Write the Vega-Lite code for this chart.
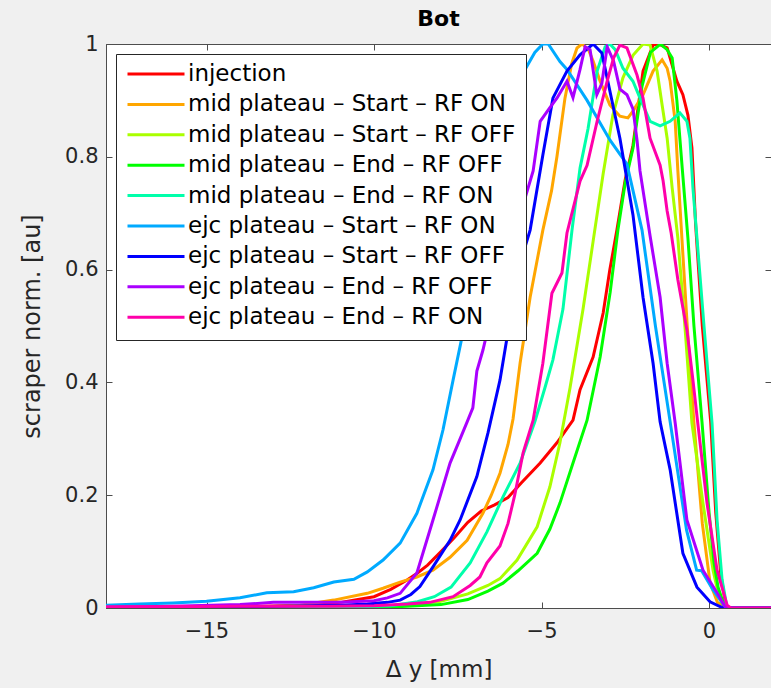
{
  "$schema": "https://vega.github.io/schema/vega-lite/v6.json",
  "width": 665,
  "height": 564,
  "autosize": {"type": "none"},
  "padding": {"left": 106, "top": 44, "right": 0, "bottom": 80},
  "background": "#f0f0f0",
  "title": {"text": "Bot", "fontSize": 22, "fontWeight": "bold", "font": "DejaVu Sans", "color": "#000000", "offset": 2, "anchor": "middle"},
  "config": {
    "view": {"fill": "white", "stroke": "#4d4d4d", "strokeWidth": 1},
    "font": "DejaVu Sans",
    "axis": {"grid": false, "domainColor": "#4d4d4d", "tickColor": "#4d4d4d", "labelColor": "#262626", "titleColor": "#262626", "labelFont": "DejaVu Sans", "titleFont": "DejaVu Sans", "labelFontSize": 21, "titleFontSize": 23, "titleFontWeight": "normal"}
  },
  "data": {"values": [
    {"s":"injection","x":-18,"y":0},{"s":"injection","x":-14,"y":0.002},{"s":"injection","x":-12,"y":0.005},{"s":"injection","x":-11,"y":0.01},{"s":"injection","x":-10,"y":0.02},{"s":"injection","x":-9.5,"y":0.033},{"s":"injection","x":-9,"y":0.05},{"s":"injection","x":-8.7,"y":0.062},{"s":"injection","x":-8.4,"y":0.076},{"s":"injection","x":-8,"y":0.1},{"s":"injection","x":-7.6,"y":0.125},{"s":"injection","x":-7.2,"y":0.152},{"s":"injection","x":-6.8,"y":0.172},{"s":"injection","x":-6.4,"y":0.183},{"s":"injection","x":-6,"y":0.196},{"s":"injection","x":-5.6,"y":0.222},{"s":"injection","x":-5.04,"y":0.257},{"s":"injection","x":-4.54,"y":0.293},{"s":"injection","x":-4.06,"y":0.333},{"s":"injection","x":-3.85,"y":0.387},{"s":"injection","x":-3.46,"y":0.445},{"s":"injection","x":-3.16,"y":0.523},{"s":"injection","x":-2.96,"y":0.6},{"s":"injection","x":-2.75,"y":0.67},{"s":"injection","x":-2.5,"y":0.76},{"s":"injection","x":-2.27,"y":0.82},{"s":"injection","x":-1.97,"y":0.952},{"s":"injection","x":-1.67,"y":0.998},{"s":"injection","x":-1.52,"y":1},{"s":"injection","x":-1.25,"y":0.993},{"s":"injection","x":-0.96,"y":0.934},{"s":"injection","x":-0.78,"y":0.91},{"s":"injection","x":-0.63,"y":0.874},{"s":"injection","x":-0.51,"y":0.816},{"s":"injection","x":-0.4,"y":0.68},{"s":"injection","x":-0.2,"y":0.5},{"s":"injection","x":0.05,"y":0.33},{"s":"injection","x":0.2,"y":0.17},{"s":"injection","x":0.35,"y":0.06},{"s":"injection","x":0.5,"y":0.005},{"s":"injection","x":0.6,"y":0},{"s":"injection","x":2,"y":0},

    {"s":"mid plateau – Start – RF ON","x":-18,"y":0},{"s":"mid plateau – Start – RF ON","x":-14,"y":0.001},{"s":"mid plateau – Start – RF ON","x":-13.2,"y":0.002},{"s":"mid plateau – Start – RF ON","x":-12.2,"y":0.005},{"s":"mid plateau – Start – RF ON","x":-11.2,"y":0.014},{"s":"mid plateau – Start – RF ON","x":-10.2,"y":0.026},{"s":"mid plateau – Start – RF ON","x":-9.73,"y":0.035},{"s":"mid plateau – Start – RF ON","x":-9.22,"y":0.046},{"s":"mid plateau – Start – RF ON","x":-8.72,"y":0.055},{"s":"mid plateau – Start – RF ON","x":-8.24,"y":0.067},{"s":"mid plateau – Start – RF ON","x":-7.73,"y":0.09},{"s":"mid plateau – Start – RF ON","x":-7.22,"y":0.12},{"s":"mid plateau – Start – RF ON","x":-6.75,"y":0.168},{"s":"mid plateau – Start – RF ON","x":-6.5,"y":0.2},{"s":"mid plateau – Start – RF ON","x":-6.24,"y":0.239},{"s":"mid plateau – Start – RF ON","x":-6,"y":0.29},{"s":"mid plateau – Start – RF ON","x":-5.85,"y":0.335},{"s":"mid plateau – Start – RF ON","x":-5.64,"y":0.434},{"s":"mid plateau – Start – RF ON","x":-5.34,"y":0.551},{"s":"mid plateau – Start – RF ON","x":-4.96,"y":0.67},{"s":"mid plateau – Start – RF ON","x":-4.7,"y":0.74},{"s":"mid plateau – Start – RF ON","x":-4.54,"y":0.8},{"s":"mid plateau – Start – RF ON","x":-4.3,"y":0.904},{"s":"mid plateau – Start – RF ON","x":-4.1,"y":0.965},{"s":"mid plateau – Start – RF ON","x":-3.94,"y":0.993},{"s":"mid plateau – Start – RF ON","x":-3.79,"y":1},{"s":"mid plateau – Start – RF ON","x":-3.6,"y":0.99},{"s":"mid plateau – Start – RF ON","x":-3.46,"y":0.97},{"s":"mid plateau – Start – RF ON","x":-3.25,"y":0.934},{"s":"mid plateau – Start – RF ON","x":-2.96,"y":0.892},{"s":"mid plateau – Start – RF ON","x":-2.66,"y":0.872},{"s":"mid plateau – Start – RF ON","x":-2.42,"y":0.869},{"s":"mid plateau – Start – RF ON","x":-2.27,"y":0.881},{"s":"mid plateau – Start – RF ON","x":-1.97,"y":0.91},{"s":"mid plateau – Start – RF ON","x":-1.67,"y":0.952},{"s":"mid plateau – Start – RF ON","x":-1.4,"y":0.972},{"s":"mid plateau – Start – RF ON","x":-1.25,"y":0.957},{"s":"mid plateau – Start – RF ON","x":-1.16,"y":0.934},{"s":"mid plateau – Start – RF ON","x":-1.01,"y":0.863},{"s":"mid plateau – Start – RF ON","x":-0.93,"y":0.775},{"s":"mid plateau – Start – RF ON","x":-0.81,"y":0.656},{"s":"mid plateau – Start – RF ON","x":-0.65,"y":0.5},{"s":"mid plateau – Start – RF ON","x":-0.45,"y":0.328},{"s":"mid plateau – Start – RF ON","x":-0.2,"y":0.15},{"s":"mid plateau – Start – RF ON","x":0.03,"y":0.045},{"s":"mid plateau – Start – RF ON","x":0.25,"y":0.01},{"s":"mid plateau – Start – RF ON","x":0.5,"y":0},{"s":"mid plateau – Start – RF ON","x":2,"y":0},

    {"s":"mid plateau – Start – RF OFF","x":-18,"y":0},{"s":"mid plateau – Start – RF OFF","x":-10,"y":0.002},{"s":"mid plateau – Start – RF OFF","x":-9,"y":0.005},{"s":"mid plateau – Start – RF OFF","x":-8,"y":0.012},{"s":"mid plateau – Start – RF OFF","x":-7.2,"y":0.025},{"s":"mid plateau – Start – RF OFF","x":-6.6,"y":0.04},{"s":"mid plateau – Start – RF OFF","x":-6.24,"y":0.052},{"s":"mid plateau – Start – RF OFF","x":-5.73,"y":0.085},{"s":"mid plateau – Start – RF OFF","x":-5.13,"y":0.144},{"s":"mid plateau – Start – RF OFF","x":-4.75,"y":0.215},{"s":"mid plateau – Start – RF OFF","x":-4.45,"y":0.293},{"s":"mid plateau – Start – RF OFF","x":-4.15,"y":0.39},{"s":"mid plateau – Start – RF OFF","x":-3.76,"y":0.53},{"s":"mid plateau – Start – RF OFF","x":-3.46,"y":0.65},{"s":"mid plateau – Start – RF OFF","x":-3.16,"y":0.77},{"s":"mid plateau – Start – RF OFF","x":-2.87,"y":0.874},{"s":"mid plateau – Start – RF OFF","x":-2.57,"y":0.94},{"s":"mid plateau – Start – RF OFF","x":-2.27,"y":0.98},{"s":"mid plateau – Start – RF OFF","x":-1.97,"y":1},{"s":"mid plateau – Start – RF OFF","x":-1.76,"y":0.998},{"s":"mid plateau – Start – RF OFF","x":-1.55,"y":0.952},{"s":"mid plateau – Start – RF OFF","x":-1.4,"y":0.892},{"s":"mid plateau – Start – RF OFF","x":-1.25,"y":0.833},{"s":"mid plateau – Start – RF OFF","x":-1.1,"y":0.745},{"s":"mid plateau – Start – RF OFF","x":-0.93,"y":0.656},{"s":"mid plateau – Start – RF OFF","x":-0.72,"y":0.5},{"s":"mid plateau – Start – RF OFF","x":-0.51,"y":0.328},{"s":"mid plateau – Start – RF OFF","x":-0.18,"y":0.186},{"s":"mid plateau – Start – RF OFF","x":0.12,"y":0.067},{"s":"mid plateau – Start – RF OFF","x":0.3,"y":0.02},{"s":"mid plateau – Start – RF OFF","x":0.5,"y":0},{"s":"mid plateau – Start – RF OFF","x":2,"y":0},

    {"s":"mid plateau – End – RF OFF","x":-18,"y":0},{"s":"mid plateau – End – RF OFF","x":-10,"y":0.001},{"s":"mid plateau – End – RF OFF","x":-9,"y":0.003},{"s":"mid plateau – End – RF OFF","x":-8,"y":0.006},{"s":"mid plateau – End – RF OFF","x":-7.2,"y":0.015},{"s":"mid plateau – End – RF OFF","x":-6.6,"y":0.03},{"s":"mid plateau – End – RF OFF","x":-6.15,"y":0.044},{"s":"mid plateau – End – RF OFF","x":-5.7,"y":0.066},{"s":"mid plateau – End – RF OFF","x":-5.13,"y":0.097},{"s":"mid plateau – End – RF OFF","x":-4.75,"y":0.14},{"s":"mid plateau – End – RF OFF","x":-4.45,"y":0.186},{"s":"mid plateau – End – RF OFF","x":-4.06,"y":0.257},{"s":"mid plateau – End – RF OFF","x":-3.64,"y":0.333},{"s":"mid plateau – End – RF OFF","x":-3.25,"y":0.445},{"s":"mid plateau – End – RF OFF","x":-2.95,"y":0.56},{"s":"mid plateau – End – RF OFF","x":-2.72,"y":0.67},{"s":"mid plateau – End – RF OFF","x":-2.5,"y":0.755},{"s":"mid plateau – End – RF OFF","x":-2.27,"y":0.815},{"s":"mid plateau – End – RF OFF","x":-2,"y":0.925},{"s":"mid plateau – End – RF OFF","x":-1.75,"y":0.985},{"s":"mid plateau – End – RF OFF","x":-1.45,"y":1},{"s":"mid plateau – End – RF OFF","x":-1.25,"y":0.99},{"s":"mid plateau – End – RF OFF","x":-1.1,"y":0.975},{"s":"mid plateau – End – RF OFF","x":-0.96,"y":0.9},{"s":"mid plateau – End – RF OFF","x":-0.8,"y":0.78},{"s":"mid plateau – End – RF OFF","x":-0.63,"y":0.656},{"s":"mid plateau – End – RF OFF","x":-0.45,"y":0.5},{"s":"mid plateau – End – RF OFF","x":-0.21,"y":0.33},{"s":"mid plateau – End – RF OFF","x":0,"y":0.17},{"s":"mid plateau – End – RF OFF","x":0.15,"y":0.08},{"s":"mid plateau – End – RF OFF","x":0.27,"y":0.037},{"s":"mid plateau – End – RF OFF","x":0.45,"y":0.005},{"s":"mid plateau – End – RF OFF","x":0.55,"y":0},{"s":"mid plateau – End – RF OFF","x":2,"y":0},

    {"s":"mid plateau – End – RF ON","x":-18,"y":0},{"s":"mid plateau – End – RF ON","x":-11,"y":0.001},{"s":"mid plateau – End – RF ON","x":-9.5,"y":0.004},{"s":"mid plateau – End – RF ON","x":-8.7,"y":0.011},{"s":"mid plateau – End – RF ON","x":-8.2,"y":0.02},{"s":"mid plateau – End – RF ON","x":-7.7,"y":0.037},{"s":"mid plateau – End – RF ON","x":-7.13,"y":0.08},{"s":"mid plateau – End – RF ON","x":-6.63,"y":0.135},{"s":"mid plateau – End – RF ON","x":-6.15,"y":0.197},{"s":"mid plateau – End – RF ON","x":-5.64,"y":0.257},{"s":"mid plateau – End – RF ON","x":-5.2,"y":0.33},{"s":"mid plateau – End – RF ON","x":-4.9,"y":0.39},{"s":"mid plateau – End – RF ON","x":-4.66,"y":0.44},{"s":"mid plateau – End – RF ON","x":-4.36,"y":0.53},{"s":"mid plateau – End – RF ON","x":-4.09,"y":0.67},{"s":"mid plateau – End – RF ON","x":-3.85,"y":0.78},{"s":"mid plateau – End – RF ON","x":-3.61,"y":0.85},{"s":"mid plateau – End – RF ON","x":-3.34,"y":0.952},{"s":"mid plateau – End – RF ON","x":-3.1,"y":0.995},{"s":"mid plateau – End – RF ON","x":-2.96,"y":1},{"s":"mid plateau – End – RF ON","x":-2.8,"y":0.99},{"s":"mid plateau – End – RF ON","x":-2.57,"y":0.957},{"s":"mid plateau – End – RF ON","x":-2.27,"y":0.934},{"s":"mid plateau – End – RF ON","x":-2.06,"y":0.904},{"s":"mid plateau – End – RF ON","x":-1.76,"y":0.863},{"s":"mid plateau – End – RF ON","x":-1.46,"y":0.855},{"s":"mid plateau – End – RF ON","x":-1.16,"y":0.863},{"s":"mid plateau – End – RF ON","x":-0.87,"y":0.878},{"s":"mid plateau – End – RF ON","x":-0.66,"y":0.863},{"s":"mid plateau – End – RF ON","x":-0.57,"y":0.833},{"s":"mid plateau – End – RF ON","x":-0.48,"y":0.745},{"s":"mid plateau – End – RF ON","x":-0.36,"y":0.656},{"s":"mid plateau – End – RF ON","x":-0.15,"y":0.5},{"s":"mid plateau – End – RF ON","x":0.09,"y":0.328},{"s":"mid plateau – End – RF ON","x":0.24,"y":0.156},{"s":"mid plateau – End – RF ON","x":0.39,"y":0.05},{"s":"mid plateau – End – RF ON","x":0.54,"y":0},{"s":"mid plateau – End – RF ON","x":2,"y":0},

    {"s":"ejc plateau – Start – RF ON","x":-18,"y":0.005},{"s":"ejc plateau – Start – RF ON","x":-17,"y":0.007},{"s":"ejc plateau – Start – RF ON","x":-16,"y":0.009},{"s":"ejc plateau – Start – RF ON","x":-15,"y":0.012},{"s":"ejc plateau – Start – RF ON","x":-14,"y":0.018},{"s":"ejc plateau – Start – RF ON","x":-13.2,"y":0.027},{"s":"ejc plateau – Start – RF ON","x":-12.4,"y":0.029},{"s":"ejc plateau – Start – RF ON","x":-11.8,"y":0.036},{"s":"ejc plateau – Start – RF ON","x":-11.2,"y":0.046},{"s":"ejc plateau – Start – RF ON","x":-10.6,"y":0.051},{"s":"ejc plateau – Start – RF ON","x":-10.2,"y":0.064},{"s":"ejc plateau – Start – RF ON","x":-9.73,"y":0.085},{"s":"ejc plateau – Start – RF ON","x":-9.22,"y":0.115},{"s":"ejc plateau – Start – RF ON","x":-8.72,"y":0.168},{"s":"ejc plateau – Start – RF ON","x":-8.24,"y":0.245},{"s":"ejc plateau – Start – RF ON","x":-7.94,"y":0.316},{"s":"ejc plateau – Start – RF ON","x":-7.64,"y":0.404},{"s":"ejc plateau – Start – RF ON","x":-7.34,"y":0.49},{"s":"ejc plateau – Start – RF ON","x":-7,"y":0.6},{"s":"ejc plateau – Start – RF ON","x":-6.6,"y":0.73},{"s":"ejc plateau – Start – RF ON","x":-6.2,"y":0.84},{"s":"ejc plateau – Start – RF ON","x":-5.8,"y":0.92},{"s":"ejc plateau – Start – RF ON","x":-5.49,"y":0.955},{"s":"ejc plateau – Start – RF ON","x":-5.2,"y":0.985},{"s":"ejc plateau – Start – RF ON","x":-4.96,"y":1},{"s":"ejc plateau – Start – RF ON","x":-4.8,"y":1},{"s":"ejc plateau – Start – RF ON","x":-4.45,"y":0.969},{"s":"ejc plateau – Start – RF ON","x":-4.24,"y":0.955},{"s":"ejc plateau – Start – RF ON","x":-3.64,"y":0.9},{"s":"ejc plateau – Start – RF ON","x":-2.96,"y":0.83},{"s":"ejc plateau – Start – RF ON","x":-2.45,"y":0.787},{"s":"ejc plateau – Start – RF ON","x":-2,"y":0.67},{"s":"ejc plateau – Start – RF ON","x":-1.6,"y":0.5},{"s":"ejc plateau – Start – RF ON","x":-1.16,"y":0.33},{"s":"ejc plateau – Start – RF ON","x":-0.67,"y":0.138},{"s":"ejc plateau – Start – RF ON","x":-0.37,"y":0.067},{"s":"ejc plateau – Start – RF ON","x":-0.22,"y":0.066},{"s":"ejc plateau – Start – RF ON","x":0.12,"y":0.032},{"s":"ejc plateau – Start – RF ON","x":0.48,"y":0.002},{"s":"ejc plateau – Start – RF ON","x":0.6,"y":0},{"s":"ejc plateau – Start – RF ON","x":2,"y":0},

    {"s":"ejc plateau – Start – RF OFF","x":-18,"y":0.001},{"s":"ejc plateau – Start – RF OFF","x":-14,"y":0.002},{"s":"ejc plateau – Start – RF OFF","x":-12,"y":0.004},{"s":"ejc plateau – Start – RF OFF","x":-11,"y":0.005},{"s":"ejc plateau – Start – RF OFF","x":-10.2,"y":0.007},{"s":"ejc plateau – Start – RF OFF","x":-9.6,"y":0.01},{"s":"ejc plateau – Start – RF OFF","x":-9.22,"y":0.014},{"s":"ejc plateau – Start – RF OFF","x":-8.9,"y":0.024},{"s":"ejc plateau – Start – RF OFF","x":-8.63,"y":0.038},{"s":"ejc plateau – Start – RF OFF","x":-8.24,"y":0.073},{"s":"ejc plateau – Start – RF OFF","x":-7.73,"y":0.12},{"s":"ejc plateau – Start – RF OFF","x":-7.43,"y":0.156},{"s":"ejc plateau – Start – RF OFF","x":-6.93,"y":0.233},{"s":"ejc plateau – Start – RF OFF","x":-6.6,"y":0.31},{"s":"ejc plateau – Start – RF OFF","x":-6.24,"y":0.404},{"s":"ejc plateau – Start – RF OFF","x":-6,"y":0.49},{"s":"ejc plateau – Start – RF OFF","x":-5.64,"y":0.611},{"s":"ejc plateau – Start – RF OFF","x":-5.34,"y":0.67},{"s":"ejc plateau – Start – RF OFF","x":-4.96,"y":0.803},{"s":"ejc plateau – Start – RF OFF","x":-4.66,"y":0.904},{"s":"ejc plateau – Start – RF OFF","x":-4.24,"y":0.952},{"s":"ejc plateau – Start – RF OFF","x":-3.85,"y":0.981},{"s":"ejc plateau – Start – RF OFF","x":-3.46,"y":1},{"s":"ejc plateau – Start – RF OFF","x":-3.2,"y":0.984},{"s":"ejc plateau – Start – RF OFF","x":-2.66,"y":0.833},{"s":"ejc plateau – Start – RF OFF","x":-2.27,"y":0.697},{"s":"ejc plateau – Start – RF OFF","x":-1.97,"y":0.551},{"s":"ejc plateau – Start – RF OFF","x":-1.67,"y":0.434},{"s":"ejc plateau – Start – RF OFF","x":-1.46,"y":0.33},{"s":"ejc plateau – Start – RF OFF","x":-1.16,"y":0.245},{"s":"ejc plateau – Start – RF OFF","x":-0.78,"y":0.097},{"s":"ejc plateau – Start – RF OFF","x":-0.36,"y":0.037},{"s":"ejc plateau – Start – RF OFF","x":0.03,"y":0.011},{"s":"ejc plateau – Start – RF OFF","x":0.42,"y":0},{"s":"ejc plateau – Start – RF OFF","x":2,"y":0},

    {"s":"ejc plateau – End – RF OFF","x":-18,"y":0.001},{"s":"ejc plateau – End – RF OFF","x":-16,"y":0.003},{"s":"ejc plateau – End – RF OFF","x":-14,"y":0.006},{"s":"ejc plateau – End – RF OFF","x":-13,"y":0.01},{"s":"ejc plateau – End – RF OFF","x":-11,"y":0.01},{"s":"ejc plateau – End – RF OFF","x":-10,"y":0.013},{"s":"ejc plateau – End – RF OFF","x":-9.6,"y":0.018},{"s":"ejc plateau – End – RF OFF","x":-9.22,"y":0.026},{"s":"ejc plateau – End – RF OFF","x":-8.72,"y":0.062},{"s":"ejc plateau – End – RF OFF","x":-8.24,"y":0.156},{"s":"ejc plateau – End – RF OFF","x":-7.73,"y":0.257},{"s":"ejc plateau – End – RF OFF","x":-7.22,"y":0.33},{"s":"ejc plateau – End – RF OFF","x":-7.05,"y":0.355},{"s":"ejc plateau – End – RF OFF","x":-6.93,"y":0.42},{"s":"ejc plateau – End – RF OFF","x":-6.75,"y":0.457},{"s":"ejc plateau – End – RF OFF","x":-6.5,"y":0.52},{"s":"ejc plateau – End – RF OFF","x":-6.2,"y":0.6},{"s":"ejc plateau – End – RF OFF","x":-5.9,"y":0.66},{"s":"ejc plateau – End – RF OFF","x":-5.49,"y":0.727},{"s":"ejc plateau – End – RF OFF","x":-5.25,"y":0.775},{"s":"ejc plateau – End – RF OFF","x":-5.04,"y":0.863},{"s":"ejc plateau – End – RF OFF","x":-4.75,"y":0.887},{"s":"ejc plateau – End – RF OFF","x":-4.54,"y":0.904},{"s":"ejc plateau – End – RF OFF","x":-4.24,"y":0.934},{"s":"ejc plateau – End – RF OFF","x":-4.06,"y":0.905},{"s":"ejc plateau – End – RF OFF","x":-3.85,"y":0.955},{"s":"ejc plateau – End – RF OFF","x":-3.7,"y":0.995},{"s":"ejc plateau – End – RF OFF","x":-3.55,"y":0.99},{"s":"ejc plateau – End – RF OFF","x":-3.35,"y":0.91},{"s":"ejc plateau – End – RF OFF","x":-3.2,"y":0.93},{"s":"ejc plateau – End – RF OFF","x":-3.04,"y":0.995},{"s":"ejc plateau – End – RF OFF","x":-2.85,"y":0.97},{"s":"ejc plateau – End – RF OFF","x":-2.66,"y":0.92},{"s":"ejc plateau – End – RF OFF","x":-2.45,"y":0.91},{"s":"ejc plateau – End – RF OFF","x":-2.27,"y":0.885},{"s":"ejc plateau – End – RF OFF","x":-2.15,"y":0.83},{"s":"ejc plateau – End – RF OFF","x":-2.06,"y":0.775},{"s":"ejc plateau – End – RF OFF","x":-1.76,"y":0.66},{"s":"ejc plateau – End – RF OFF","x":-1.46,"y":0.551},{"s":"ejc plateau – End – RF OFF","x":-1.25,"y":0.434},{"s":"ejc plateau – End – RF OFF","x":-1.01,"y":0.328},{"s":"ejc plateau – End – RF OFF","x":-0.66,"y":0.156},{"s":"ejc plateau – End – RF OFF","x":-0.18,"y":0.067},{"s":"ejc plateau – End – RF OFF","x":0.24,"y":0.027},{"s":"ejc plateau – End – RF OFF","x":0.48,"y":0.002},{"s":"ejc plateau – End – RF OFF","x":0.6,"y":0},{"s":"ejc plateau – End – RF OFF","x":2,"y":0},

    {"s":"ejc plateau – End – RF ON","x":-18,"y":0.002},{"s":"ejc plateau – End – RF ON","x":-14,"y":0.003},{"s":"ejc plateau – End – RF ON","x":-11.3,"y":0.003},{"s":"ejc plateau – End – RF ON","x":-10,"y":0.004},{"s":"ejc plateau – End – RF ON","x":-9,"y":0.007},{"s":"ejc plateau – End – RF ON","x":-8.33,"y":0.01},{"s":"ejc plateau – End – RF ON","x":-7.64,"y":0.02},{"s":"ejc plateau – End – RF ON","x":-7.13,"y":0.04},{"s":"ejc plateau – End – RF ON","x":-6.84,"y":0.055},{"s":"ejc plateau – End – RF ON","x":-6.63,"y":0.08},{"s":"ejc plateau – End – RF ON","x":-6.24,"y":0.11},{"s":"ejc plateau – End – RF ON","x":-6,"y":0.15},{"s":"ejc plateau – End – RF ON","x":-5.8,"y":0.2},{"s":"ejc plateau – End – RF ON","x":-5.55,"y":0.275},{"s":"ejc plateau – End – RF ON","x":-5.25,"y":0.333},{"s":"ejc plateau – End – RF ON","x":-4.96,"y":0.434},{"s":"ejc plateau – End – RF ON","x":-4.69,"y":0.558},{"s":"ejc plateau – End – RF ON","x":-4.39,"y":0.594},{"s":"ejc plateau – End – RF ON","x":-4.24,"y":0.665},{"s":"ejc plateau – End – RF ON","x":-3.85,"y":0.757},{"s":"ejc plateau – End – RF ON","x":-3.64,"y":0.785},{"s":"ejc plateau – End – RF ON","x":-3.34,"y":0.863},{"s":"ejc plateau – End – RF ON","x":-3.04,"y":0.934},{"s":"ejc plateau – End – RF ON","x":-2.85,"y":0.975},{"s":"ejc plateau – End – RF ON","x":-2.66,"y":0.998},{"s":"ejc plateau – End – RF ON","x":-2.45,"y":0.993},{"s":"ejc plateau – End – RF ON","x":-2.15,"y":0.945},{"s":"ejc plateau – End – RF ON","x":-1.97,"y":0.904},{"s":"ejc plateau – End – RF ON","x":-1.76,"y":0.833},{"s":"ejc plateau – End – RF ON","x":-1.46,"y":0.785},{"s":"ejc plateau – End – RF ON","x":-1.37,"y":0.757},{"s":"ejc plateau – End – RF ON","x":-1.25,"y":0.704},{"s":"ejc plateau – End – RF ON","x":-1.13,"y":0.665},{"s":"ejc plateau – End – RF ON","x":-0.93,"y":0.582},{"s":"ejc plateau – End – RF ON","x":-0.66,"y":0.493},{"s":"ejc plateau – End – RF ON","x":-0.48,"y":0.404},{"s":"ejc plateau – End – RF ON","x":-0.34,"y":0.33},{"s":"ejc plateau – End – RF ON","x":-0.06,"y":0.186},{"s":"ejc plateau – End – RF ON","x":0.24,"y":0.067},{"s":"ejc plateau – End – RF ON","x":0.54,"y":0.005},{"s":"ejc plateau – End – RF ON","x":0.65,"y":0},{"s":"ejc plateau – End – RF ON","x":2,"y":0}
  ]},
  "layer": [
    {
      "mark": {"type": "line", "strokeWidth": 3, "clip": true},
      "encoding": {
        "x": {"field": "x", "type": "quantitative", "scale": {"domain": [-18, 1.85], "nice": false, "zero": false},
              "axis": {"orient": "bottom", "values": [-15, -10, -5, 0], "format": "d", "title": "Δ y [mm]", "tickSize": -6, "labelPadding": 18, "titlePadding": 17}},
        "y": {"field": "y", "type": "quantitative", "scale": {"domain": [0, 1], "nice": false},
              "axis": {"orient": "left", "values": [0, 0.2, 0.4, 0.6, 0.8, 1], "format": "~g", "title": "scraper norm. [au]", "titleFontSize": 24, "tickSize": -6, "labelPadding": 14, "titlePadding": 20}},
        "color": {"field": "s", "type": "nominal",
          "scale": {
            "domain": ["injection", "mid plateau – Start – RF ON", "mid plateau – Start – RF OFF", "mid plateau – End – RF OFF", "mid plateau – End – RF ON", "ejc plateau – Start – RF ON", "ejc plateau – Start – RF OFF", "ejc plateau – End – RF OFF", "ejc plateau – End – RF ON"],
            "range": ["#ff0000", "#ffa600", "#aaff00", "#00ff00", "#00ffaa", "#00aaff", "#0000ff", "#aa00ff", "#ff00aa"]
          },
          "legend": {
            "title": null, "orient": "top-left", "offset": 10, "padding": 10,
            "fillColor": "white", "strokeColor": "#262626", "cornerRadius": 0,
            "symbolType": "stroke", "symbolSize": 3249, "symbolStrokeWidth": 3,
            "labelFontSize": 23, "labelFont": "DejaVu Sans", "labelColor": "#000000", "labelLimit": 500, "labelOffset": 2,
            "clipHeight": 20, "rowPadding": 7.4
          }
        }
      }
    },
    {
      "mark": {"type": "point", "opacity": 0},
      "encoding": {
        "x": {"field": "x", "type": "quantitative", "axis": {"orient": "top", "values": [-15, -10, -5, 0], "labels": false, "title": null, "tickSize": -6, "domain": false}},
        "y": {"field": "y", "type": "quantitative", "axis": {"orient": "right", "values": [0, 0.2, 0.4, 0.6, 0.8, 1], "labels": false, "title": null, "tickSize": -6, "domain": false}}
      }
    }
  ],
  "resolve": {"axis": {"x": "independent", "y": "independent"}}
}
